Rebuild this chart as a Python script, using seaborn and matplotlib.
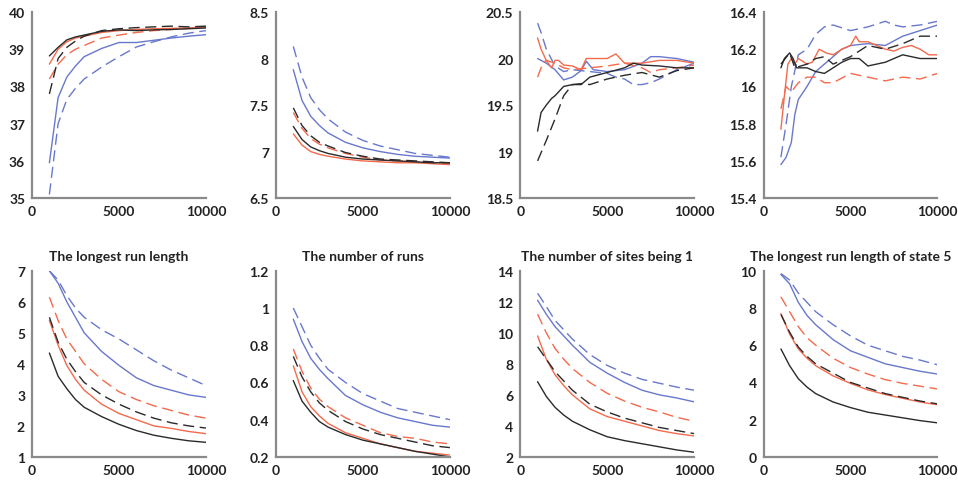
import matplotlib.pyplot as plt
import seaborn as sns

BLUE = "#6878cc"
RED = "#f46a4c"
BLACK = "#2a2a2a"

# common x grid for the smooth panels
X = [1000, 1500, 2000, 2500, 3000, 4000, 5000, 6000, 7000, 8000, 9000, 10000]

# ---- top row, panel 1 ----
p1_blue = [35.95, 37.7, 38.25, 38.55, 38.8, 39.02, 39.18, 39.18, 39.24, 39.3, 39.35, 39.39]
p1_blue_d = [35.1, 37.0, 37.65, 37.95, 38.2, 38.52, 38.8, 39.06, 39.2, 39.33, 39.43, 39.5]
p1_red = [38.6, 39.0, 39.2, 39.3, 39.35, 39.45, 39.5, 39.53, 39.55, 39.56, 39.57, 39.6]
p1_red_d = [38.2, 38.6, 38.85, 39.0, 39.1, 39.3, 39.38, 39.45, 39.5, 39.53, 39.56, 39.6]
p1_black = [38.82, 39.05, 39.25, 39.33, 39.38, 39.48, 39.52, 39.5, 39.52, 39.53, 39.55, 39.57]
p1_black_d = [37.8, 38.75, 39.05, 39.22, 39.35, 39.5, 39.55, 39.58, 39.6, 39.62, 39.6, 39.62]

# ---- top row, panel 2 ----
p2_blue = [7.88, 7.55, 7.38, 7.28, 7.2, 7.1, 7.04, 7.0, 6.97, 6.95, 6.94, 6.93]
p2_blue_d = [8.13, 7.8, 7.58, 7.45, 7.35, 7.21, 7.12, 7.06, 7.02, 6.98, 6.96, 6.94]
p2_red = [7.19, 7.07, 7.0, 6.97, 6.95, 6.92, 6.9, 6.89, 6.88, 6.88, 6.87, 6.86]
p2_red_d = [7.42, 7.25, 7.14, 7.08, 7.04, 6.98, 6.94, 6.91, 6.9, 6.89, 6.88, 6.87]
p2_black = [7.27, 7.13, 7.05, 7.01, 6.98, 6.94, 6.92, 6.91, 6.9, 6.89, 6.88, 6.88]
p2_black_d = [7.47, 7.28, 7.17, 7.1, 7.06, 6.99, 6.95, 6.92, 6.91, 6.9, 6.89, 6.88]

# ---- top row, panel 3 (noisy) ----
p3_blue_x = [1000, 1500, 2000, 2500, 3000, 3500, 3800, 4200, 5000, 6000, 7000, 7500, 8000, 9000, 10000]
p3_blue = [20.0, 19.95, 19.88, 19.77, 19.8, 19.87, 19.97, 19.88, 19.86, 19.88, 19.95, 20.02, 20.02, 20.0, 19.96]
p3_blue_d_x = [1000, 1200, 1500, 2000, 2500, 3000, 4000, 5000, 5500, 6000, 6500, 7000, 7500, 8000, 9000, 10000]
p3_blue_d = [20.38, 20.28, 20.1, 19.92, 19.86, 19.88, 19.86, 19.84, 19.8, 19.78, 19.72, 19.72, 19.74, 19.78, 19.88, 19.95]
p3_red_x = [1000, 1200, 1500, 1800, 2000, 2200, 2500, 3000, 3500, 3800, 4500, 5000, 5500, 6000, 7000, 8000, 9000, 10000]
p3_red = [20.22, 20.1, 19.98, 19.9, 19.98, 19.98, 19.93, 19.92, 19.88, 20.0, 20.0, 20.0, 20.05, 19.95, 19.95, 19.98, 19.98, 19.95]
p3_red_d_x = [1000, 1300, 1500, 2000, 2500, 3000, 4000, 5000, 6000, 7000, 7500, 8000, 9000, 10000]
p3_red_d = [19.8, 19.95, 19.98, 19.95, 19.9, 19.88, 19.9, 19.92, 19.95, 19.9, 19.85, 19.88, 19.9, 19.93]
p3_black_x = [1000, 1200, 1500, 1800, 2000, 2500, 3000, 3500, 4000, 5000, 6000, 6500, 7000, 8000, 9000, 10000]
p3_black = [19.22, 19.42, 19.5, 19.57, 19.6, 19.7, 19.72, 19.72, 19.8, 19.85, 19.9, 19.95, 19.93, 19.92, 19.9, 19.9]
p3_black_d_x = [1000, 1500, 2000, 2500, 3000, 3500, 4000, 5000, 6000, 7000, 8000, 9000, 10000]
p3_black_d = [18.9, 19.12, 19.35, 19.6, 19.72, 19.73, 19.72, 19.78, 19.82, 19.85, 19.8, 19.87, 19.9]

# ---- top row, panel 4 (noisy) ----
p4_blue_x = [1000, 1300, 1600, 1800, 2000, 2500, 3000, 3500, 4000, 4500, 5000, 6000, 7000, 8000, 9000, 10000]
p4_blue = [15.58, 15.62, 15.7, 15.85, 15.93, 16.0, 16.08, 16.12, 16.16, 16.2, 16.22, 16.23, 16.22, 16.27, 16.3, 16.33]
p4_blue_d_x = [1000, 1300, 1600, 2000, 2500, 3000, 3500, 4000, 5000, 6000, 7000, 7500, 8000, 9000, 10000]
p4_blue_d = [15.62, 15.8, 16.0, 16.17, 16.2, 16.28, 16.32, 16.33, 16.3, 16.32, 16.35, 16.33, 16.32, 16.33, 16.35]
p4_red_x = [1000, 1200, 1400, 1600, 1800, 2000, 2500, 2800, 3200, 3600, 4000, 4500, 5000, 5300, 5500, 6000,
            6500, 7000, 7500, 8000, 8500, 9000, 9500, 10000]
p4_red = [15.77, 15.95, 16.12, 16.15, 16.12, 16.15, 16.12, 16.13, 16.2, 16.18, 16.17, 16.2, 16.22, 16.27, 16.24, 16.24,
          16.22, 16.2, 16.19, 16.21, 16.22, 16.2, 16.17, 16.17]
p4_red_d_x = [1000, 1300, 1600, 2000, 2500, 3000, 3500, 4000, 5000, 5500, 6000, 7000, 8000, 9000, 10000]
p4_red_d = [15.88, 16.0, 15.97, 16.02, 16.05, 16.05, 16.02, 16.02, 16.07, 16.06, 16.05, 16.03, 16.05, 16.04, 16.07]
p4_black_x = [1000, 1200, 1500, 1700, 1900, 2500, 3000, 3500, 4000, 4500, 5000, 5500, 6000, 7000, 8000, 9000, 10000]
p4_black = [16.1, 16.15, 16.18, 16.15, 16.1, 16.1, 16.08, 16.07, 16.1, 16.13, 16.15, 16.15, 16.11, 16.13, 16.17, 16.15, 16.15]
p4_black_d_x = [1000, 1500, 1800, 2500, 3000, 3500, 4000, 5000, 6000, 7000, 8000, 9000, 10000]
p4_black_d = [16.12, 16.18, 16.1, 16.12, 16.15, 16.16, 16.12, 16.16, 16.22, 16.2, 16.23, 16.27, 16.27]

# ---- bottom row, panel 5 ----
p5_blue = [7.0, 6.6, 6.0, 5.5, 5.0, 4.4, 3.95, 3.55, 3.3, 3.15, 3.0, 2.92]
p5_blue_d = [7.0, 6.7, 6.2, 5.8, 5.5, 5.1, 4.8, 4.45, 4.1, 3.8, 3.55, 3.3]
p5_red = [5.4, 4.6, 3.95, 3.5, 3.15, 2.7, 2.4, 2.2, 2.0, 1.92, 1.82, 1.75]
p5_red_d = [6.15, 5.4, 4.8, 4.4, 4.0, 3.5, 3.1, 2.85, 2.65, 2.5, 2.35, 2.25]
p5_black = [4.35, 3.6, 3.2, 2.85, 2.6, 2.3, 2.05, 1.85, 1.7, 1.6, 1.52, 1.47]
p5_black_d = [5.5, 4.7, 4.15, 3.75, 3.4, 3.0, 2.7, 2.45, 2.25, 2.1, 2.0, 1.93]

# ---- bottom row, panel 6 ----
p6_blue = [0.94, 0.82, 0.73, 0.67, 0.62, 0.53, 0.48, 0.44, 0.41, 0.39, 0.37, 0.36]
p6_blue_d = [1.0, 0.9, 0.8, 0.73, 0.67, 0.6, 0.54, 0.5, 0.46, 0.44, 0.42, 0.4]
p6_red = [0.69, 0.55, 0.47, 0.42, 0.38, 0.33, 0.3, 0.27, 0.25, 0.23, 0.22, 0.21]
p6_red_d = [0.78, 0.66, 0.57, 0.51, 0.47, 0.41, 0.37, 0.33, 0.31, 0.3, 0.28, 0.27]
p6_black = [0.61, 0.5, 0.44, 0.39, 0.36, 0.32, 0.29, 0.27, 0.25, 0.23, 0.215, 0.2]
p6_black_d = [0.74, 0.63, 0.55, 0.49, 0.45, 0.39, 0.35, 0.32, 0.3, 0.28, 0.26, 0.25]

# ---- bottom row, panel 7 ----
p7_blue = [12.1, 11.2, 10.4, 9.8, 9.2, 8.1, 7.4, 6.8, 6.3, 6.0, 5.8, 5.55]
p7_blue_d = [12.55, 11.7, 10.8, 10.2, 9.6, 8.6, 7.9, 7.4, 7.0, 6.75, 6.5, 6.3]
p7_red = [9.8, 8.3, 7.3, 6.6, 6.0, 5.1, 4.6, 4.3, 4.0, 3.7, 3.5, 3.35]
p7_red_d = [11.2, 10.0, 9.0, 8.3, 7.7, 6.8, 6.1, 5.6, 5.2, 4.9, 4.55, 4.3]
p7_black = [6.85, 5.9, 5.2, 4.7, 4.3, 3.75, 3.3, 3.05, 2.85, 2.65, 2.45, 2.3]
p7_black_d = [9.1, 8.3, 7.5, 6.9, 6.3, 5.4, 4.9, 4.5, 4.2, 3.9, 3.7, 3.5]

# ---- bottom row, panel 8 ----
p8_blue = [9.8, 9.3, 8.3, 7.6, 7.1, 6.3, 5.7, 5.35, 5.0, 4.8, 4.6, 4.45]
p8_blue_d = [9.85, 9.5, 8.8, 8.3, 7.8, 7.1, 6.5, 6.0, 5.7, 5.4, 5.2, 4.95]
p8_red = [7.7, 6.6, 5.8, 5.3, 4.9, 4.35, 3.95, 3.6, 3.35, 3.15, 2.95, 2.8]
p8_red_d = [8.6, 7.8, 7.0, 6.4, 6.0, 5.3, 4.8, 4.45, 4.15, 3.95, 3.8, 3.65]
p8_black = [5.8, 4.9, 4.2, 3.75, 3.4, 2.95, 2.65, 2.4, 2.25, 2.1, 1.95, 1.83]
p8_black_d = [7.65, 6.7, 5.9, 5.4, 5.0, 4.5, 4.0, 3.7, 3.4, 3.2, 3.0, 2.85]

titles = ["", "", "", "",
          "The longest run length", "The number of runs",
          "The number of sites being 1", "The longest run length of state 5"]
yticks = [[35, 36, 37, 38, 39, 40],
          [6.5, 7, 7.5, 8, 8.5],
          [18.5, 19, 19.5, 20, 20.5],
          [15.4, 15.6, 15.8, 16, 16.2, 16.4],
          [1, 2, 3, 4, 5, 6, 7],
          [0.2, 0.4, 0.6, 0.8, 1, 1.2],
          [2, 4, 6, 8, 10, 12, 14],
          [0, 2, 4, 6, 8, 10]]

# each series: (x, y, colour, dashed)
panels = [
    [(X, p1_blue, BLUE, False), (X, p1_blue_d, BLUE, True), (X, p1_red, RED, False),
     (X, p1_red_d, RED, True), (X, p1_black, BLACK, False), (X, p1_black_d, BLACK, True)],
    [(X, p2_blue, BLUE, False), (X, p2_blue_d, BLUE, True), (X, p2_red, RED, False),
     (X, p2_red_d, RED, True), (X, p2_black, BLACK, False), (X, p2_black_d, BLACK, True)],
    [(p3_blue_x, p3_blue, BLUE, False), (p3_blue_d_x, p3_blue_d, BLUE, True),
     (p3_red_x, p3_red, RED, False), (p3_red_d_x, p3_red_d, RED, True),
     (p3_black_x, p3_black, BLACK, False), (p3_black_d_x, p3_black_d, BLACK, True)],
    [(p4_blue_x, p4_blue, BLUE, False), (p4_blue_d_x, p4_blue_d, BLUE, True),
     (p4_red_x, p4_red, RED, False), (p4_red_d_x, p4_red_d, RED, True),
     (p4_black_x, p4_black, BLACK, False), (p4_black_d_x, p4_black_d, BLACK, True)],
    [(X, p5_blue, BLUE, False), (X, p5_blue_d, BLUE, True), (X, p5_red, RED, False),
     (X, p5_red_d, RED, True), (X, p5_black, BLACK, False), (X, p5_black_d, BLACK, True)],
    [(X, p6_blue, BLUE, False), (X, p6_blue_d, BLUE, True), (X, p6_red, RED, False),
     (X, p6_red_d, RED, True), (X, p6_black, BLACK, False), (X, p6_black_d, BLACK, True)],
    [(X, p7_blue, BLUE, False), (X, p7_blue_d, BLUE, True), (X, p7_red, RED, False),
     (X, p7_red_d, RED, True), (X, p7_black, BLACK, False), (X, p7_black_d, BLACK, True)],
    [(X, p8_blue, BLUE, False), (X, p8_blue_d, BLUE, True), (X, p8_red, RED, False),
     (X, p8_red_d, RED, True), (X, p8_black, BLACK, False), (X, p8_black_d, BLACK, True)],
]

sns.set_style("white")
plt.rcParams["font.family"] = ["Lato", "DejaVu Sans"]

fig = plt.figure(figsize=(9.58, 4.81), dpi=100)
lefts = [0.0334, 0.288, 0.543, 0.797]
bottoms = [0.586, 0.048]
w, h = 0.1816, 0.387

for i, series in enumerate(panels):
    ax = fig.add_axes([lefts[i % 4], bottoms[i // 4], w, h])
    for x, y, c, dashed in series:
        sns.lineplot(x=x, y=y, ax=ax, color=c, linewidth=1.0,
                     linestyle=(0, (8, 4)) if dashed else "-")
    ax.set_xlim(0, 10000)
    ax.set_ylim(yticks[i][0], yticks[i][-1])
    ax.set_xticks([0, 5000, 10000], labels=["0", "5000", "10000"])
    ax.set_yticks(yticks[i], labels=[f"{t:g}" for t in yticks[i]])
    sns.despine(ax=ax)
    for s in ["left", "bottom"]:
        ax.spines[s].set_color("#8a8a8a")
        ax.spines[s].set_linewidth(1.6)
    ax.tick_params(direction="in", length=2, width=1, color="#8a8a8a",
                   labelsize=10, labelcolor="#222222", pad=5)
    for lab in ax.get_xticklabels() + ax.get_yticklabels():
        lab.set_fontweight("bold")
    if titles[i]:
        ax.set_title(titles[i], fontsize=10, fontweight="bold", color="#222222", pad=8)

fig.savefig("out.png", dpi=100)
